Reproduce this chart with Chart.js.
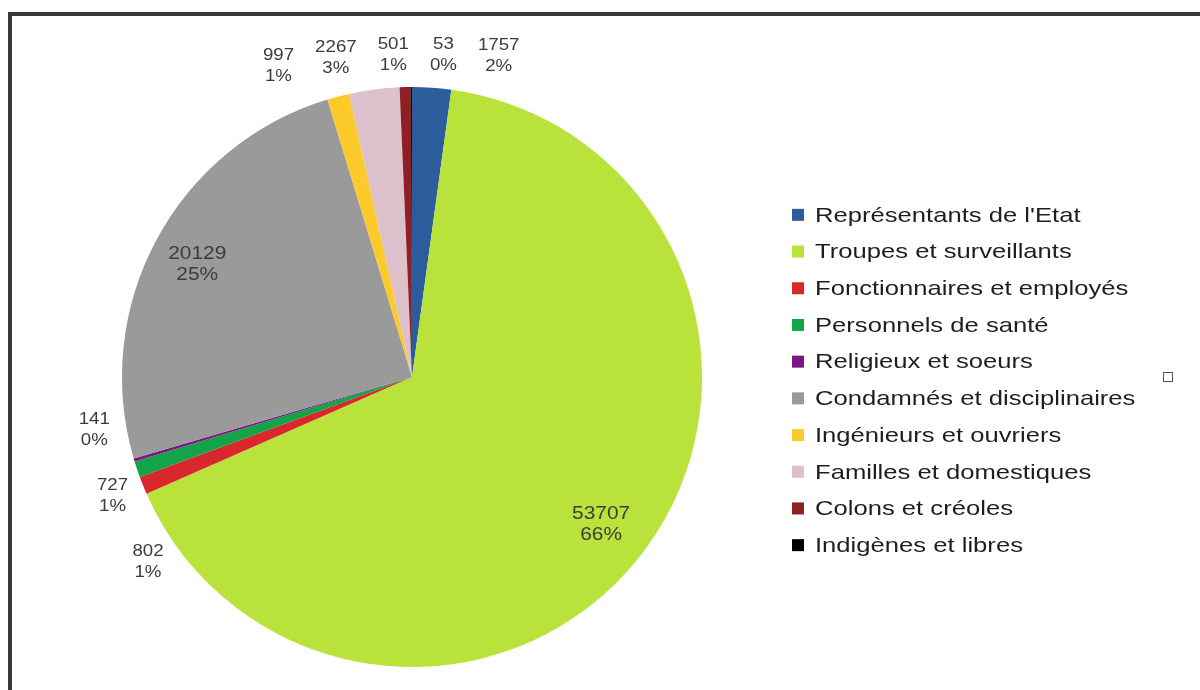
<!DOCTYPE html>
<html>
<head>
<meta charset="utf-8">
<script src="https://cdn.jsdelivr.net/npm/chart.js@4.4.1/dist/chart.umd.min.js"></script>
<style>
  html, body { margin: 0; padding: 0; background: #ffffff; overflow: hidden; }
  #wrap { position: relative; width: 1200px; height: 690px; }
  #frame { position: absolute; left: 8px; top: 12px; width: 1400px; height: 900px;
           border-top: 4px solid #3a3a3a; border-left: 4px solid #3a3a3a; box-sizing: border-box; }
  #mini { position: absolute; left: 1163px; top: 372px; width: 10px; height: 10px;
          border: 1.5px solid #555; box-sizing: border-box; }
  canvas { position: absolute; left: 0; top: 0; }
</style>
</head>
<body>
<div id="wrap">
  <div id="frame"></div>
  <div id="mini"></div>
  <canvas id="c" width="1200" height="690"></canvas>
</div>
<script>
// ---- data ----
const categories = [
  "Représentants de l'Etat",
  "Troupes et surveillants",
  "Fonctionnaires et employés",
  "Personnels de santé",
  "Religieux et soeurs",
  "Condamnés et disciplinaires",
  "Ingénieurs et ouvriers",
  "Familles et domestiques",
  "Colons et créoles",
  "Indigènes et libres"
];
const values = [1757, 53707, 802, 727, 141, 20129, 997, 2267, 501, 53];
const colors = ['#2b5d9d', '#b9e23b', '#d8272d', '#13a449', '#7b1685',
                '#9a9a9a', '#fdca2b', '#dcc0cb', '#8e1f22', '#000000'];

// ---- style ----
const OUT_FONT = '17px "Liberation Sans", Arial, sans-serif';
const OUT_SX = 1.1;
const IN_FONT = '19px "Liberation Sans", Arial, sans-serif';
const IN_SX = 1.1;
const LABEL_COLOR = '#3c3c3c';
const LINE_H = 21;
const LEGEND_FONT = '21px "Liberation Sans", Arial, sans-serif';
const LEGEND_SX = 1.22;
const LEGEND_X = 792, LEGEND_ROW = 36.7, LEGEND_BOX = 12, LEGEND_DY = 3;

const total = values.reduce((a, b) => a + b, 0);
const pctText = v => Math.round(v / total * 100) + '%';

function stretchedText(ctx, text, x, y, sx) {
  ctx.save();
  ctx.translate(x, y);
  ctx.scale(sx, 1);
  ctx.fillText(text, 0, 0);
  ctx.restore();
}

const labelPlugin = {
  id: 'pieLabels',
  afterDatasetsDraw(chart) {
    const ctx = chart.ctx;
    const meta = chart.getDatasetMeta(0);
    const ds = chart.data.datasets[0];
    ctx.save();
    ctx.fillStyle = LABEL_COLOR;
    ctx.textAlign = 'center';
    ctx.textBaseline = 'middle';
    const outside = [];
    meta.data.forEach((arc, i) => {
      const p = arc.getProps(['x', 'y', 'startAngle', 'endAngle', 'outerRadius'], true);
      const mid = (p.startAngle + p.endAngle) / 2;
      const v = ds.data[i];
      const l1 = String(v), l2 = pctText(v);
      if (v / total > 0.10) {
        ctx.font = IN_FONT;
        const r = p.outerRadius * 0.83;
        const x = p.x + r * Math.cos(mid) - 3, y = p.y + r * Math.sin(mid) + 2;
        stretchedText(ctx, l1, x, y - LINE_H / 2, IN_SX);
        stretchedText(ctx, l2, x, y + LINE_H / 2, IN_SX);
      } else {
        ctx.font = OUT_FONT;
        const R = p.outerRadius + 32;
        const w = OUT_SX * Math.max(ctx.measureText(l1).width, ctx.measureText(l2).width);
        outside.push({ l1, l2, w, cx: p.x, cy: p.y, R, cos: Math.cos(mid), sin: Math.sin(mid),
                       x: p.x + R * Math.cos(mid), y: p.y + R * Math.sin(mid) });
      }
    });
    // groups: top/bottom spread horizontally, sides spread vertically
    const vert = outside.filter(o => Math.abs(o.sin) >= Math.abs(o.cos));
    const side = outside.filter(o => Math.abs(o.sin) < Math.abs(o.cos));
    const spread = (list, key, gapFn, k) => {
      if (!list.length) return;
      list.sort((a, b) => a[key] - b[key]);
      const nat = list.map(o => o[key]);
      const pos = [nat[0]];
      for (let i = 1; i < list.length; i++) pos.push(Math.max(nat[i], pos[i - 1] + gapFn(list[i - 1], list[i])));
      const shift = k * (nat.reduce((a, b) => a + b, 0) / nat.length - pos.reduce((a, b) => a + b, 0) / pos.length);
      list.forEach((o, i) => { o[key] = pos[i] + shift; });
    };
    [vert.filter(o => o.sin < 0), vert.filter(o => o.sin >= 0)].forEach(g =>
      spread(g, 'x', (a, b) => (a.w + b.w) / 2 + 21, 1));
    [side.filter(o => o.cos < 0), side.filter(o => o.cos >= 0)].forEach(g => {
      spread(g, 'y', () => 2 * LINE_H + 24, 0.75);
      g.forEach(o => {
        const dy = o.y - o.cy;
        const dx = Math.sqrt(Math.max(o.R * o.R - dy * dy, 0));
        o.x = o.cx + (o.cos < 0 ? -dx : dx);
      });
    });
    ctx.font = OUT_FONT;
    outside.forEach(o => {
      stretchedText(ctx, o.l1, o.x, o.y - LINE_H / 2, OUT_SX);
      stretchedText(ctx, o.l2, o.x, o.y + LINE_H / 2, OUT_SX);
    });
    // legend
    const n = chart.data.labels.length;
    const ca = chart.chartArea;
    const midY = (ca.top + ca.bottom) / 2 + LEGEND_DY;
    const y0 = midY - (n - 1) * LEGEND_ROW / 2;
    ctx.font = LEGEND_FONT;
    ctx.textAlign = 'left';
    chart.data.labels.forEach((lab, i) => {
      const y = y0 + i * LEGEND_ROW;
      ctx.fillStyle = ds.backgroundColor[i];
      ctx.fillRect(LEGEND_X, y - LEGEND_BOX / 2, LEGEND_BOX, LEGEND_BOX);
      ctx.fillStyle = '#1e1e1e';
      stretchedText(ctx, lab, LEGEND_X + 23, y + 1, LEGEND_SX);
    });
    ctx.restore();
  }
};

new Chart(document.getElementById('c'), {
  type: 'pie',
  data: {
    labels: categories,
    datasets: [{
      data: values,
      backgroundColor: colors,
      borderWidth: 0,
      hoverOffset: 0,
      offset: 0
    }]
  },
  options: {
    responsive: false,
    animation: false,
    layout: { padding: { left: 122, right: 498, top: 87, bottom: 23 } },
    plugins: { legend: { display: false }, tooltip: { enabled: false } }
  },
  plugins: [labelPlugin]
});
</script>
</body>
</html>
